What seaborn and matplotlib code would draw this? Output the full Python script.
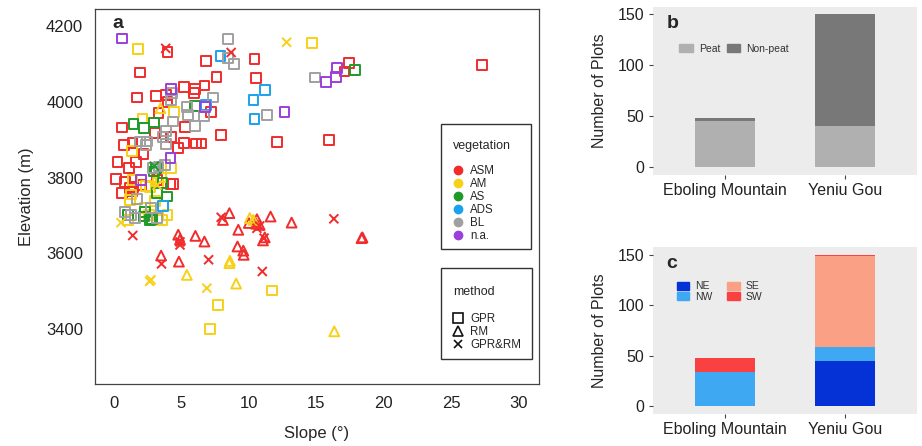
import numpy as np
import pandas as pd
import seaborn as sns
import matplotlib.pyplot as plt
from matplotlib.lines import Line2D
from matplotlib.patches import Patch, Rectangle


# Panel a: slope vs elevation, grouped by vegetation
# ASM / GPR
asm_gpr_slope = [3.98, 1.93, 6.84, 10.42, 10.55, 7.61, 5.17, 6.04, 5.96, 6.71, 1.72, 3.10, 3.84, 3.98,
                 3.31, 7.21, 0.61, 5.30, 3.05, 4.24, 7.95, 0.74, 1.38, 2.20, 4.77, 5.17, 6.10, 6.49,
                 12.11, 15.96, 17.44, 17.09, 27.30, 0.27, 1.64, 1.11, 0.16, 0.85, 0.58, 1.38, 1.46,
                 4.37, 4.20, 3.18, 1.20, 2.00]
asm_gpr_elev = [4131, 4077, 4108, 4112, 4062, 4065, 4038, 4033, 4022, 4043, 4011, 4015, 4018, 4000,
                3970, 3974, 3932, 3933, 3917, 3908, 3912, 3886, 3892, 3862, 3877, 3892, 3890, 3890,
                3893, 3898, 4103, 4080, 4097, 3840, 3840, 3825, 3796, 3789, 3759, 3763, 3776,
                3783, 3783, 3794, 3772, 3780]
# ASM / RM
asm_rm_slope = [8.56, 8.08, 11.61, 13.17, 9.22, 10.60, 10.55, 10.00, 18.42, 18.35, 4.77, 4.90, 6.04,
                6.71, 9.16, 9.59, 9.62, 3.50, 4.82, 11.18, 11.05, 10.80]
asm_rm_elev = [3706, 3688, 3697, 3681, 3662, 3690, 3678, 3680, 3642, 3640, 3649, 3636, 3646,
               3631, 3618, 3607, 3596, 3594, 3578, 3642, 3634, 3675]
# ASM / GPR&RM
asm_both_slope = [3.84, 8.69, 1.40, 7.95, 16.30, 7.02, 3.53, 11.00, 4.90, 11.13, 10.60, 10.80, 4.90]
asm_both_elev = [4141, 4130, 3647, 3695, 3691, 3583, 3572, 3552, 3622, 3640, 3666, 3672, 3630]

# AM
am_gpr_slope = [1.80, 14.66, 2.12, 4.45, 1.33, 4.24, 1.38, 1.19, 1.30, 2.40, 2.70, 3.30, 3.05, 3.98,
                3.58, 1.06, 2.30, 11.71, 7.69, 7.10, 3.50, 2.60]
am_gpr_elev = [4139, 4154, 3956, 3973, 3869, 3825, 3794, 3741, 3755, 3778, 3775, 3785, 3737, 3701,
               3688, 3688, 3720, 3502, 3464, 3400, 3800, 3700]
am_rm_slope = [3.45, 10.07, 10.34, 8.56, 8.60, 5.41, 9.06, 16.33]
am_rm_elev = [3983, 3693, 3688, 3574, 3580, 3543, 3520, 3394]
am_both_slope = [12.80, 0.53, 2.65, 2.75, 6.89, 3.20]
am_both_elev = [4157, 3681, 3526, 3530, 3508, 3780]

# AS
as_gpr_slope = [1.46, 2.25, 2.97, 6.04, 17.89, 2.97, 3.10, 3.18, 3.92, 2.25, 2.65, 1.06, 3.60, 2.80, 2.30]
as_gpr_elev = [3941, 3930, 3945, 3989, 4084, 3816, 3825, 3759, 3750, 3697, 3688, 3702, 3785, 3690, 3710]
as_both_slope = [3.00]
as_both_elev = [3830]

# ADS
ads_gpr_slope = [7.90, 10.34, 11.21, 10.42, 6.84, 3.66]
ads_gpr_elev = [4121, 4005, 4031, 3954, 3992, 3724]

# BL
bl_gpr_slope = [8.43, 8.48, 8.88, 7.37, 5.43, 5.51, 6.04, 6.68, 11.34, 14.90, 4.37, 3.84, 3.66, 3.84,
                4.24, 4.29, 2.44, 1.91, 2.39, 1.72, 1.54, 0.85, 2.92, 3.31, 3.76, 2.78, 3.18, 1.30]
bl_gpr_elev = [4166, 4115, 4100, 4011, 3986, 3965, 3935, 3963, 3965, 4064, 3948, 3923, 3908, 3889,
               4005, 4024, 3895, 3895, 3886, 3743, 3693, 3708, 3825, 3829, 3833, 3719, 3693, 3700]

# n.a.
na_gpr_slope = [0.61, 4.24, 6.76, 12.64, 15.69, 16.43, 16.56, 4.19, 1.99]
na_gpr_elev = [4167, 4033, 3987, 3972, 4052, 4066, 4088, 3851, 3794]

vegetation = ["ASM", "AM", "AS", "ADS", "BL", "n.a."]
veg_colors = ["#f02c2c", "#f7d117", "#1e9a2a", "#1aa2ee", "#a0a0a0", "#9a3fdc"]
methods = ["GPR", "RM", "GPR&RM"]

# Panel b: peat / non-peat
sites = ["Eboling Mountain", "Yeniu Gou"]
peat = [45, 40]
non_peat = [3, 110]

# Panel c: aspect
aspects = ["NE", "NW", "SE", "SW"]
aspect_counts = {
    "NE": [0, 45],
    "NW": [34, 14],
    "SE": [0, 90],
    "SW": [14, 1],
}
aspect_colors = ["#0432d6", "#3ea9f2", "#f9a085", "#f94141"]


# Build long table for scatter
groups = [
    ("ASM", "GPR", asm_gpr_slope, asm_gpr_elev),
    ("ASM", "RM", asm_rm_slope, asm_rm_elev),
    ("ASM", "GPR&RM", asm_both_slope, asm_both_elev),
    ("AM", "GPR", am_gpr_slope, am_gpr_elev),
    ("AM", "RM", am_rm_slope, am_rm_elev),
    ("AM", "GPR&RM", am_both_slope, am_both_elev),
    ("AS", "GPR", as_gpr_slope, as_gpr_elev),
    ("AS", "GPR&RM", as_both_slope, as_both_elev),
    ("ADS", "GPR", ads_gpr_slope, ads_gpr_elev),
    ("BL", "GPR", bl_gpr_slope, bl_gpr_elev),
    ("n.a.", "GPR", na_gpr_slope, na_gpr_elev),
]
rows = []
for veg, meth, xs, ys in groups:
    for x, y in zip(xs, ys):
        rows.append({"slope": x, "elev": y, "veg": veg, "method": meth})
df = pd.DataFrame(rows)

sns.set_style("white")
plt.rcParams["font.family"] = ["Liberation Sans", "DejaVu Sans"]

fig = plt.figure(figsize=(9.22, 4.46), dpi=100)
palette = dict(zip(vegetation, veg_colors))

# ---- panel a
ax = fig.add_axes([0.103, 0.139, 0.4816, 0.841])
filled = df[df["method"] != "GPR&RM"]
sns.scatterplot(data=filled, x="slope", y="elev", hue="veg", style="method",
                markers={"GPR": "s", "RM": "^"}, palette=palette, hue_order=vegetation,
                s=50, linewidth=1.4, legend=False, ax=ax)
coll = ax.collections[0]
coll.set_edgecolors(coll.get_facecolors())
coll.set_facecolors("none")
crosses = df[df["method"] == "GPR&RM"]
sns.scatterplot(data=crosses, x="slope", y="elev", hue="veg", palette=palette,
                hue_order=vegetation, marker="x", s=42, linewidth=1.4, legend=False, ax=ax)

ax.set_xlim(-1.4, 31.5)
ax.set_ylim(3255, 4245)
ax.set_xticks(range(0, 31, 5))
ax.set_yticks(range(3400, 4201, 200))
ax.tick_params(direction="out", length=5, width=0.8, labelsize=12, colors="#222")
for sp in ax.spines.values():
    sp.set_color("#444")
    sp.set_linewidth(0.9)
ax.set_xlabel("Slope (°)", fontsize=12, labelpad=11)
ax.set_ylabel("Elevation (m)", fontsize=12, labelpad=9)
ax.text(0.04, 0.96, "a", transform=ax.transAxes, fontsize=14, fontweight="bold", va="center")

# vegetation legend
ax.add_patch(Rectangle((0.779, 0.36), 0.203, 0.333, transform=ax.transAxes,
                       fill=False, edgecolor="#333", linewidth=1))
ax.text(0.806, 0.635, "vegetation", transform=ax.transAxes, fontsize=9, va="center")
veg_handles = [Line2D([], [], marker="o", linestyle="", color=c, markersize=6) for c in veg_colors]
leg1 = ax.legend(veg_handles, vegetation, loc="upper left", bbox_to_anchor=(0.808, 0.585),
                 frameon=False, fontsize=8.3, handlelength=0.8, handletextpad=0.6,
                 labelspacing=0.1, borderpad=0, borderaxespad=0)
ax.add_artist(leg1)

# method legend
ax.add_patch(Rectangle((0.779, 0.067), 0.205, 0.242, transform=ax.transAxes,
                       fill=False, edgecolor="#333", linewidth=1))
ax.text(0.806, 0.245, "method", transform=ax.transAxes, fontsize=9, va="center")
meth_handles = [
    Line2D([], [], marker="s", linestyle="", markerfacecolor="none", markeredgecolor="#111",
           markersize=6.5, markeredgewidth=1.2),
    Line2D([], [], marker="^", linestyle="", markerfacecolor="none", markeredgecolor="#111",
           markersize=7.5, markeredgewidth=1.2),
    Line2D([], [], marker="x", linestyle="", color="#111", markersize=6, markeredgewidth=1.2),
]
ax.legend(meth_handles, methods, loc="upper left", bbox_to_anchor=(0.808, 0.19),
          frameon=False, fontsize=8.3, handlelength=0.8, handletextpad=0.6,
          labelspacing=0.08, borderpad=0, borderaxespad=0)


def style_bar_axis(a):
    a.set_facecolor("#ececec")
    for sp in a.spines.values():
        sp.set_visible(False)
    a.set_xlim(-0.6, 1.6)
    a.set_ylim(-7.5, 157.5)
    a.set_yticks([0, 50, 100, 150])
    a.tick_params(axis="both", direction="out", length=3, width=0.8, color="#444",
                  labelsize=11.5, labelcolor="#222", bottom=True, left=True, pad=3)
    a.set_xlabel("")
    a.set_ylabel("Number of Plots", fontsize=11.5, labelpad=8)


# ---- panel b
bar_df = pd.DataFrame({"site": sites, "peat": peat, "non_peat": non_peat})
bar_df["total"] = bar_df["peat"] + bar_df["non_peat"]
axb = fig.add_axes([0.708, 0.608, 0.287, 0.377])
sns.barplot(data=bar_df, x="site", y="total", color="#787878", width=0.5, saturation=1,
            errorbar=None, linewidth=0, ax=axb)
sns.barplot(data=bar_df, x="site", y="peat", color="#b0b0b0", width=0.5, saturation=1,
            errorbar=None, linewidth=0, ax=axb)
style_bar_axis(axb)
axb.text(0.053, 0.9, "b", transform=axb.transAxes, fontsize=14, fontweight="bold", va="center")
axb.legend([Patch(color="#b0b0b0"), Patch(color="#787878")], ["Peat", "Non-peat"],
           loc="center left", bbox_to_anchor=(0.1, 0.75), ncol=2, frameon=False, fontsize=7.5,
           handlelength=1.3, handleheight=0.9, handletextpad=0.6, columnspacing=0.6,
           borderpad=0, borderaxespad=0, labelcolor="#333")

# ---- panel c
asp_df = pd.DataFrame(aspect_counts)
asp_df["site"] = sites
cum = asp_df[aspects].cumsum(axis=1)
axc = fig.add_axes([0.708, 0.072, 0.287, 0.374])
for name, col in list(zip(aspects, aspect_colors))[::-1]:
    sns.barplot(x=asp_df["site"], y=cum[name], color=col, width=0.5, saturation=1,
                errorbar=None, linewidth=0, ax=axc)
style_bar_axis(axc)
axc.text(0.05, 0.904, "c", transform=axc.transAxes, fontsize=14, fontweight="bold", va="center")
axc.legend([Patch(color=c) for c in aspect_colors], aspects,
           loc="upper left", bbox_to_anchor=(0.09, 0.795), ncol=2, frameon=False, fontsize=7.5,
           handlelength=1.2, handleheight=0.85, handletextpad=0.6, columnspacing=1.4,
           labelspacing=0.05, borderpad=0, borderaxespad=0, labelcolor="#333")

fig.savefig("out.png", dpi=100)
